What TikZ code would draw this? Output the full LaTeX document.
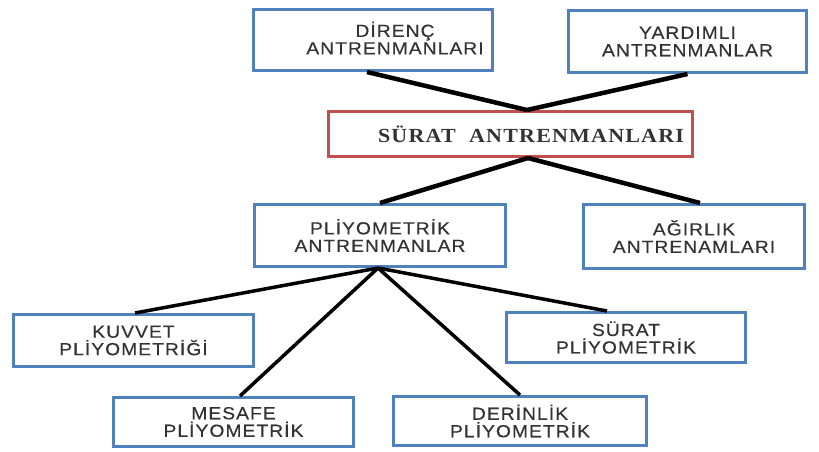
\documentclass[tikz,border=0pt]{standalone}
\usepackage{fontspec}
\setmainfont{Liberation Sans}
\newfontfamily\boxfont[LetterSpace=6,FakeStretch=1.1,FakeBold=0.4]{Liberation Sans}
\newfontfamily\redfont[LetterSpace=6,FakeStretch=1.1]{Liberation Serif}
\usetikzlibrary{calc}
\definecolor{boxblue}{HTML}{4F81BD}
\definecolor{boxred}{HTML}{C0504D}
\definecolor{txtgrey}{HTML}{333333}
\tikzset{
  bluebox/.style={draw=boxblue, line width=3pt, fill=white, rectangle, inner sep=0pt,
    align=center, text=txtgrey, font=\boxfont\fontsize{17.5}{17.5}\selectfont},
  redbox/.style={draw=boxred, line width=3pt, fill=white, rectangle, inner sep=0pt},
  lbl/.style={align=center, text=txtgrey, inner sep=0pt, font=\boxfont\fontsize{17.5}{17.5}\selectfont},
  thickline/.style={draw=black, line width=4.5pt},
  thinline/.style={draw=black, line width=3.5pt}
}
\begin{document}
\begin{tikzpicture}[x=1pt,y=-1pt]
\useasboundingbox (0,0) rectangle (819,451);
% boxes
\node[bluebox, minimum width=239pt, minimum height=61pt] (d) at (373,40) {};
\node[lbl] (dt) at (395,38) {DİRENÇ\\ANTRENMANLARI};
\node[bluebox, minimum width=238pt, minimum height=62pt] (y) at (687.5,41.5) {YARDIMLI\\ANTRENMANLAR};
\node[redbox, minimum width=364pt, minimum height=45pt] (s) at (510.5,134) {};
\node[text=txtgrey, inner sep=0pt, font=\redfont\bfseries\fontsize{20}{22}\selectfont] (st) at (531,134) {SÜRAT\ \ ANTRENMANLARI};
\node[bluebox, minimum width=251pt, minimum height=62pt] (p) at (380,235.5) {PLİYOMETRİK\\ANTRENMANLAR};
\node[bluebox, minimum width=221pt, minimum height=64pt] (a) at (694,236.5) {AĞIRLIK\\ANTRENAMLARI};
\node[bluebox, minimum width=240pt, minimum height=52pt] (k) at (133.5,340.5) {KUVVET\\PLİYOMETRİĞİ};
\node[bluebox, minimum width=240pt, minimum height=49pt] (m) at (233.5,422) {MESAFE\\PLİYOMETRİK};
\node[bluebox, minimum width=239pt, minimum height=50pt] (sp) at (626,337.5) {SÜRAT\\PLİYOMETRİK};
\node[bluebox, minimum width=253pt, minimum height=49pt] (dr) at (520,421) {DERİNLİK\\PLİYOMETRİK};
% connectors
\draw[thickline] ([xshift=-6pt]d.south) -- ([xshift=16.5pt]s.north);
\draw[thickline] (y.south) -- ([xshift=16.5pt]s.north);
\draw[thickline] ([xshift=17.5pt]s.south) -- (p.north);
\draw[thickline] ([xshift=17.5pt]s.south) -- ([xshift=6pt]a.north);
\draw[thinline] ([xshift=-2pt]p.south) -- ([xshift=1.5pt]k.north);
\draw[thinline] ([xshift=-2pt]p.south) -- ([xshift=6.5pt]m.north);
\draw[thinline] ([xshift=-2pt]p.south) -- ([xshift=-19pt]sp.north);
\draw[thinline] ([xshift=-2pt]p.south) -- (dr.north);
\end{tikzpicture}
\end{document}
